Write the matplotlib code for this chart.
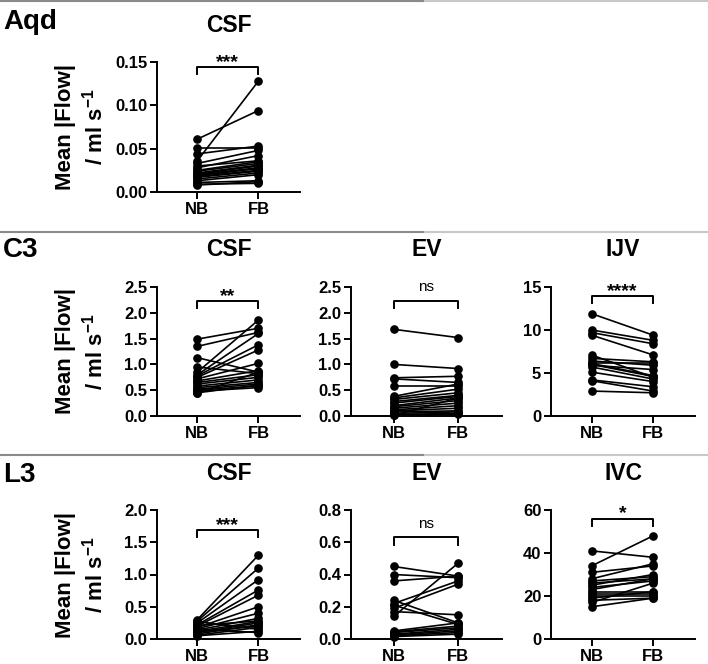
import matplotlib
matplotlib.use("Agg")
import matplotlib.pyplot as plt
from matplotlib.lines import Line2D

plt.rcParams['font.family'] = ['Liberation Sans', 'DejaVu Sans']
plt.rcParams['font.weight'] = 'bold'
plt.rcParams['mathtext.fontset'] = 'custom'
plt.rcParams['mathtext.rm'] = 'Liberation Sans:bold'
plt.rcParams['mathtext.bf'] = 'Liberation Sans:bold'
plt.rcParams['mathtext.it'] = 'Liberation Sans:bold'

groups = ["NB", "FB"]

# ---- data ----
aqd_csf_nb = [0.061, 0.036, 0.051, 0.044, 0.033, 0.028, 0.025, 0.024, 0.022, 0.021,
              0.020, 0.019, 0.018, 0.017, 0.015, 0.013, 0.011, 0.009, 0.008, 0.030]
aqd_csf_fb = [0.094, 0.128, 0.051, 0.053, 0.048, 0.042, 0.035, 0.033, 0.031, 0.030,
              0.028, 0.027, 0.025, 0.024, 0.022, 0.020, 0.013, 0.010, 0.012, 0.036]

c3_csf_nb = [1.49, 1.35, 1.13, 0.95, 0.85, 0.80, 0.78, 0.75, 0.72, 0.68,
             0.65, 0.62, 0.58, 0.55, 0.52, 0.50, 0.48, 0.45, 0.44]
c3_csf_fb = [1.70, 1.62, 0.85, 0.82, 1.86, 1.60, 1.38, 1.28, 1.02, 0.88,
             0.80, 0.75, 0.70, 0.65, 0.62, 0.58, 0.55, 0.60, 0.85]

c3_ev_nb = [1.68, 1.00, 0.74, 0.72, 0.58, 0.38, 0.35, 0.32, 0.28, 0.25,
            0.20, 0.18, 0.15, 0.12, 0.10, 0.08, 0.05, 0.03, 0.02, 0.01]
c3_ev_fb = [1.52, 0.92, 0.77, 0.65, 0.58, 0.62, 0.52, 0.45, 0.40, 0.38,
            0.35, 0.30, 0.25, 0.20, 0.15, 0.10, 0.08, 0.05, 0.03, 0.35]

c3_ijv_nb = [11.9, 10.0, 9.7, 9.4, 7.1, 6.7, 6.4, 6.2, 6.0, 5.9, 5.7, 5.1, 4.2, 4.1, 2.9, 6.1]
c3_ijv_fb = [9.4, 8.8, 8.4, 7.1, 4.5, 6.3, 5.9, 6.2, 4.6, 5.4, 4.3, 4.0, 3.4, 2.9, 2.7, 4.7]

l3_csf_nb = [0.30, 0.28, 0.25, 0.22, 0.20, 0.18, 0.16, 0.14, 0.12, 0.10,
             0.08, 0.06, 0.27, 0.05, 0.15, 0.21, 0.11]
l3_csf_fb = [1.30, 1.10, 0.92, 0.76, 0.68, 0.50, 0.40, 0.32, 0.27, 0.25,
             0.22, 0.18, 0.15, 0.12, 0.10, 0.28, 0.20]

l3_ev_nb = [0.45, 0.40, 0.36, 0.24, 0.22, 0.19, 0.14, 0.17, 0.21,
            0.05, 0.045, 0.04, 0.03, 0.025, 0.02, 0.015]
l3_ev_fb = [0.39, 0.38, 0.39, 0.10, 0.36, 0.34, 0.47, 0.15, 0.09,
            0.10, 0.08, 0.07, 0.06, 0.05, 0.04, 0.03]

l3_ivc_nb = [41, 34, 31, 28, 27, 26, 25, 24, 23, 22, 21, 20, 18, 17, 15, 19]
l3_ivc_fb = [38, 48, 34, 35, 29, 28, 30, 27, 28, 22, 21, 20, 19, 26, 19, 22]

# ---- layout ----
W, H = 708, 664
fig = plt.figure(figsize=(W / 100, H / 100), dpi=100)

def fx(px):
    return px / W

def fy(px):
    return 1 - px / H

row_tops = [62, 287, 510]
row_bots = [192, 416, 639]
col_lr = [(157, 300), (351, 502), (551, 695)]

panels = [
    (0, 0, "CSF", aqd_csf_nb, aqd_csf_fb, 0.15, [0, 0.05, 0.10, 0.15], "{:.2f}", "***", 0.144),
    (1, 0, "CSF", c3_csf_nb, c3_csf_fb, 2.5, [0, 0.5, 1.0, 1.5, 2.0, 2.5], "{:.1f}", "**", 2.23),
    (1, 1, "EV", c3_ev_nb, c3_ev_fb, 2.5, [0, 0.5, 1.0, 1.5, 2.0, 2.5], "{:.1f}", "ns", 2.23),
    (1, 2, "IJV", c3_ijv_nb, c3_ijv_fb, 15, [0, 5, 10, 15], "{:.0f}", "****", 13.95),
    (2, 0, "CSF", l3_csf_nb, l3_csf_fb, 2.0, [0, 0.5, 1.0, 1.5, 2.0], "{:.1f}", "***", 1.69),
    (2, 1, "EV", l3_ev_nb, l3_ev_fb, 0.8, [0, 0.2, 0.4, 0.6, 0.8], "{:.1f}", "ns", 0.63),
    (2, 2, "IVC", l3_ivc_nb, l3_ivc_fb, 60, [0, 20, 40, 60], "{:.0f}", "*", 56),
]

for (r, c, title, nb, fb, ymax, yt, fmt, sig, by) in panels:
    l, rr = col_lr[c]
    top, bot = row_tops[r], row_bots[r]
    ax = fig.add_axes([fx(l), fy(bot), fx(rr - l), (bot - top) / H])
    for a, b in zip(nb, fb):
        ax.plot([0, 1], [a, b], color='black', lw=1.2, marker='o', ms=5.2,
                mfc='black', mec='black', clip_on=False, zorder=3)
    ax.set_xlim(-0.66, 1.68)
    ax.set_ylim(0, ymax)
    ax.set_xticks([0, 1])
    ax.set_xticklabels(groups, fontsize=12, fontweight='bold')
    ax.set_yticks(yt)
    ax.set_yticklabels([fmt.format(v) for v in yt], fontsize=12, fontweight='bold')
    for s in ['top', 'right']:
        ax.spines[s].set_visible(False)
    for s in ['left', 'bottom']:
        ax.spines[s].set_linewidth(1.4)
    ax.tick_params(axis='both', direction='out', length=5, width=1.4, pad=2)
    # bracket
    leg = ymax * 0.055
    ax.plot([0, 0, 1, 1], [by - leg, by, by, by - leg], color='black', lw=1.4,
            clip_on=False, zorder=4)
    if sig == "ns":
        ax.text(0.5, by + ymax * 0.05, sig, ha='center', va='bottom', fontsize=11,
                fontweight='normal')
    else:
        ax.text(0.5, by - ymax * 0.03, sig, ha='center', va='bottom', fontsize=14,
                fontweight='bold')
    # title
    fig.text(fx((l + rr) / 2), fy(top - 37), title, ha='center', va='center',
             fontsize=16.5, fontweight='bold')

# row labels and y labels
row_labels = ["Aqd", "C3", "L3"]
row_label_y = [22, 250, 475]
for r in range(3):
    fig.text(fx(3), fy(row_label_y[r]), row_labels[r], ha='left', va='center',
             fontsize=20, fontweight='bold')
    mid = (row_tops[r] + row_bots[r]) / 2
    fig.text(fx(81), fy(mid), "Mean |Flow|\n/ ml s$^{-1}$", rotation=90,
             ha='center', va='center', fontsize=16, fontweight='bold',
             multialignment='center', linespacing=1.25)

# separators
for yy in [1, 232, 455]:
    fig.add_artist(Line2D([0, 0.6], [fy(yy), fy(yy)], color='#8a8a8a', lw=1.5))
    fig.add_artist(Line2D([0.6, 1], [fy(yy), fy(yy)], color='#c8c8c8', lw=1.5))

fig.savefig("out.png", dpi=100, facecolor='white')
